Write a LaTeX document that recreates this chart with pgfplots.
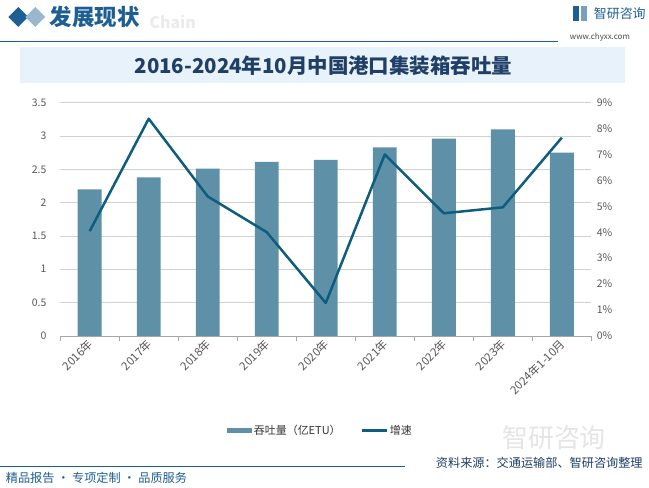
\documentclass[border=0pt]{standalone}
\usepackage{pgfplots}
\pgfplotsset{compat=1.18}
\usepackage{fontspec}
\setmainfont{Noto Sans CJK SC}
\definecolor{barc}{HTML}{5E91A8}
\definecolor{linec}{HTML}{0E5C7E}
\definecolor{hdr}{HTML}{1D5F94}
\definecolor{ttl}{HTML}{1F3F66}
\definecolor{band}{HTML}{E8F2FA}
\definecolor{tick}{HTML}{595959}
\begin{document}
\begin{tikzpicture}[x=1pt,y=1pt]
\fill[white] (0,0) rectangle (649,489);
% header
\fill[hdr] (8,472) -- (18,482) -- (28,472) -- (18,462) -- cycle;
\fill[hdr!45] (25,472) -- (35,482) -- (45,472) -- (35,462) -- cycle;
\node[anchor=west, text=black!8, font=\bfseries\fontsize{16}{18}\selectfont] at (146,467) {Chain};
\node[anchor=west, text=hdr, font=\bfseries\fontsize{22.5}{25}\selectfont] at (46,472) {发展现状};
\draw[hdr, line width=0.8pt] (0,447) -- (560,447);
\node[anchor=west, text=hdr, font=\fontsize{13}{15}\selectfont] at (592,475) {智研咨询};
\fill[hdr] (575,468) rectangle (581,483);
\fill[hdr!60] (583,468) rectangle (589,483);
\node[anchor=west, text=black!70, font=\fontsize{8}{9}\selectfont] at (568,452) {www.chyxx.com};
% title band
\fill[band] (20,406) rectangle (627,442);
\node[text=ttl, font=\bfseries\fontsize{20.5}{23}\selectfont] at (324,423) {2016-2024年10月中国港口集装箱吞吐量};
% watermark logo
\node[anchor=west, text=black!10, font=\fontsize{26}{28}\selectfont] at (500,50) {智研咨询};
% footer
\draw[hdr, line width=0.8pt] (0,21) -- (406,21);
\node[anchor=east, text=ttl, font=\fontsize{12.2}{14}\selectfont] at (648,25) {资料来源：交通运输部、智研咨询整理};
\node[anchor=west, text=hdr, font=\fontsize{12.2}{14}\selectfont] at (2,9) {精品报告 · 专项定制 · 品质服务};

\begin{axis}[
  at={(60pt,152pt)}, anchor=south west,
  width=533pt, height=234pt, scale only axis,
  xmin=-0.5, xmax=8.5, ymin=0, ymax=3.5,
  axis x line*=bottom, axis y line*=left,
  y axis line style={draw=none},
  x axis line style={draw=black!35},
  xtick={0,...,8},
  xticklabels={2016年,2017年,2018年,2019年,2020年,2021年,2022年,2023年,2024年1-10月},
  minor xtick={-0.5,0.5,...,8.5},
  tick align=outside,
  major x tick style={draw=none},
  minor x tick style={draw=black!35},
  minor tick length=5pt,
  ytick={0,0.5,1,1.5,2,2.5,3,3.5},
  yticklabels={0,0.5,1,1.5,2,2.5,3,3.5},
  ytick style={draw=none},
  ymajorgrids, grid style={draw=black!18, line width=0.6pt},
  ticklabel style={text=tick, font=\fontsize{10.5}{12}\selectfont},
  xticklabel style={rotate=45, anchor=east, xshift=3pt, yshift=-2pt, font=\fontsize{11.5}{13}\selectfont},
  yticklabel style={xshift=-6pt},
  legend style={at={(0.49,-0.406)}, anchor=center, draw=none, fill=none,
    font=\fontsize{11}{13}\selectfont, text=black!80,
    /tikz/every even column/.append style={column sep=18pt}},
  legend columns=2,
]
\addplot[ybar, bar width=24pt, fill=barc, draw=none,
  area legend,
  legend image code/.code={\fill[barc] (0pt,-3pt) rectangle (25pt,3pt);}]
  coordinates {(0,2.20) (1,2.38) (2,2.51) (3,2.61) (4,2.64) (5,2.83) (6,2.96) (7,3.10) (8,2.75)};
\addlegendentry{吞吐量（亿ETU）}
\addlegendimage{legend image code/.code={\draw[linec, line width=2.5pt] (0pt,0pt) -- (25pt,0pt);}}
\addlegendentry{增速}
\end{axis}

\begin{axis}[
  at={(60pt,152pt)}, anchor=south west,
  width=533pt, height=234pt, scale only axis,
  xmin=-0.5, xmax=8.5, ymin=0, ymax=9,
  axis x line=none, axis y line*=right,
  y axis line style={draw=none},
  ytick={0,...,9},
  yticklabels={0\%,1\%,2\%,3\%,4\%,5\%,6\%,7\%,8\%,9\%},
  ytick style={draw=none},
  ticklabel style={text=tick, font=\fontsize{10.5}{12}\selectfont},
  yticklabel style={xshift=2pt},
]
\addplot[linec, line width=2.5pt, line join=round]
  coordinates {(0,4.04) (1,8.38) (2,5.38) (3,4.00) (4,1.27) (5,7.00) (6,4.73) (7,4.96) (8,7.65)};
\end{axis}
\end{tikzpicture}
\end{document}
